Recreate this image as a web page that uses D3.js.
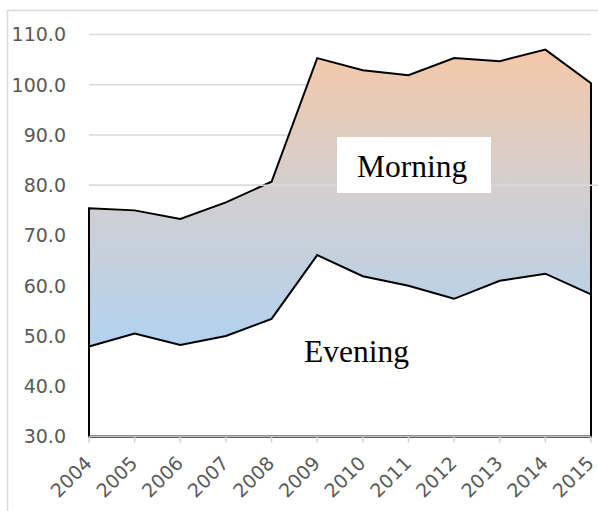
<!DOCTYPE html>
<html>
<head>
<meta charset="utf-8">
<script src="https://cdn.jsdelivr.net/npm/d3@7/dist/d3.min.js"></script>
<style>
  body { margin: 0; background: #fff; }
  svg { display: block; }
</style>
</head>
<body>
<div id="viz"></div>
<script>
// Morning / Evening band chart

const YEARS = ["2004","2005","2006","2007","2008","2009","2010","2011","2012","2013","2014","2015"];
const MORNING = [75.4, 75.0, 73.3, 76.6, 80.7, 105.3, 102.9, 101.9, 105.3, 104.7, 107.0, 100.3];
const EVENING = [47.9, 50.5, 48.2, 50.0, 53.4, 66.1, 61.9, 60.0, 57.4, 61.0, 62.4, 58.3];
const Y_TICKS = [30, 40, 50, 60, 70, 80, 90, 100, 110];

const W = 598, H = 511;
const plotL = 89, plotR = 591, plotT = 34.5, plotB = 436.5;

const svg = d3.select("#viz").append("svg")
  .attr("width", W)
  .attr("height", H);

const x = d3.scalePoint().domain(YEARS).range([plotL, plotR]);
const y = d3.scaleLinear().domain([30, 110]).range([plotB, plotT]);

// chart frame (only top and left edges are visible)
svg.append("path")
  .attr("d", `M7.5,${H} L7.5,10.5 L${W},10.5`)
  .attr("fill", "none")
  .attr("stroke", "#d9d9d9")
  .attr("stroke-width", 1.5);

// gridlines
svg.append("g")
  .selectAll("line")
  .data(Y_TICKS.slice(1))
  .enter().append("line")
  .attr("x1", plotL).attr("x2", plotR)
  .attr("y1", d => y(d)).attr("y2", d => y(d))
  .attr("stroke", "#d9d9d9")
  .attr("stroke-width", 1.5);

const defs = svg.append("defs");
const grad = defs.append("linearGradient")
  .attr("id", "band")
  .attr("gradientUnits", "userSpaceOnUse")
  .attr("x1", 0).attr("x2", 0)
  .attr("y1", y(108)).attr("y2", y(48));
grad.append("stop").attr("offset", "0%").attr("stop-color", "#f6c8a7");
grad.append("stop").attr("offset", "50%").attr("stop-color", "#d2cfd1");
grad.append("stop").attr("offset", "100%").attr("stop-color", "#b2d2ef");

const rows = YEARS.map((yr, i) => ({ yr, m: MORNING[i], e: EVENING[i] }));

const area = (acc) => d3.area()
  .x(d => x(d.yr))
  .y0(y(30))
  .y1(d => y(acc(d)));

// morning (total) area
svg.append("path")
  .datum(rows)
  .attr("d", area(d => d.m))
  .attr("fill", "url(#band)")
  .attr("stroke", "#000")
  .attr("stroke-width", 2);

// evening area (white)
svg.append("path")
  .datum(rows)
  .attr("d", area(d => d.e))
  .attr("fill", "#fff")
  .attr("stroke", "#000")
  .attr("stroke-width", 2);

// the 80 gridline shows through the band
svg.append("line")
  .attr("x1", plotL).attr("x2", W)
  .attr("y1", y(80)).attr("y2", y(80))
  .attr("stroke", "#d9d9d9")
  .attr("stroke-width", 1.5);

// x axis
svg.append("line")
  .attr("x1", plotL).attr("x2", plotR)
  .attr("y1", plotB).attr("y2", plotB)
  .attr("stroke", "#bfbfbf")
  .attr("stroke-width", 1.5);

svg.append("g")
  .selectAll("line")
  .data(YEARS)
  .enter().append("line")
  .attr("x1", d => x(d)).attr("x2", d => x(d))
  .attr("y1", plotB).attr("y2", plotB + 6)
  .attr("stroke", "#d0d0d0")
  .attr("stroke-width", 1.5);

svg.append("g")
  .selectAll("text")
  .data(YEARS)
  .enter().append("text")
  .attr("transform", d => `translate(${x(d) + 4},${plotB + 28}) rotate(-45)`)
  .attr("text-anchor", "end")
  .attr("font-family", "DejaVu Sans, sans-serif")
  .attr("font-size", 19)
  .attr("fill", "#595959")
  .text(d => d);

// y labels
svg.append("g")
  .selectAll("text")
  .data(Y_TICKS)
  .enter().append("text")
  .attr("x", 66)
  .attr("y", d => y(d))
  .attr("dy", "0.36em")
  .attr("text-anchor", "end")
  .attr("font-family", "DejaVu Sans, sans-serif")
  .attr("font-size", 19)
  .attr("fill", "#595959")
  .text(d => d3.format(".1f")(d));

// labels
svg.append("rect")
  .attr("x", 337).attr("y", 137)
  .attr("width", 154).attr("height", 56)
  .attr("fill", "#fff");

svg.append("text")
  .attr("x", 357).attr("y", 176.5)
  .attr("font-family", "Liberation Serif, Times New Roman, serif")
  .attr("font-size", 31.5)
  .attr("fill", "#000")
  .text("Morning");

svg.append("text")
  .attr("x", 304).attr("y", 361.5)
  .attr("font-family", "Liberation Serif, Times New Roman, serif")
  .attr("font-size", 31.5)
  .attr("fill", "#000")
  .text("Evening");
</script>
</body>
</html>
